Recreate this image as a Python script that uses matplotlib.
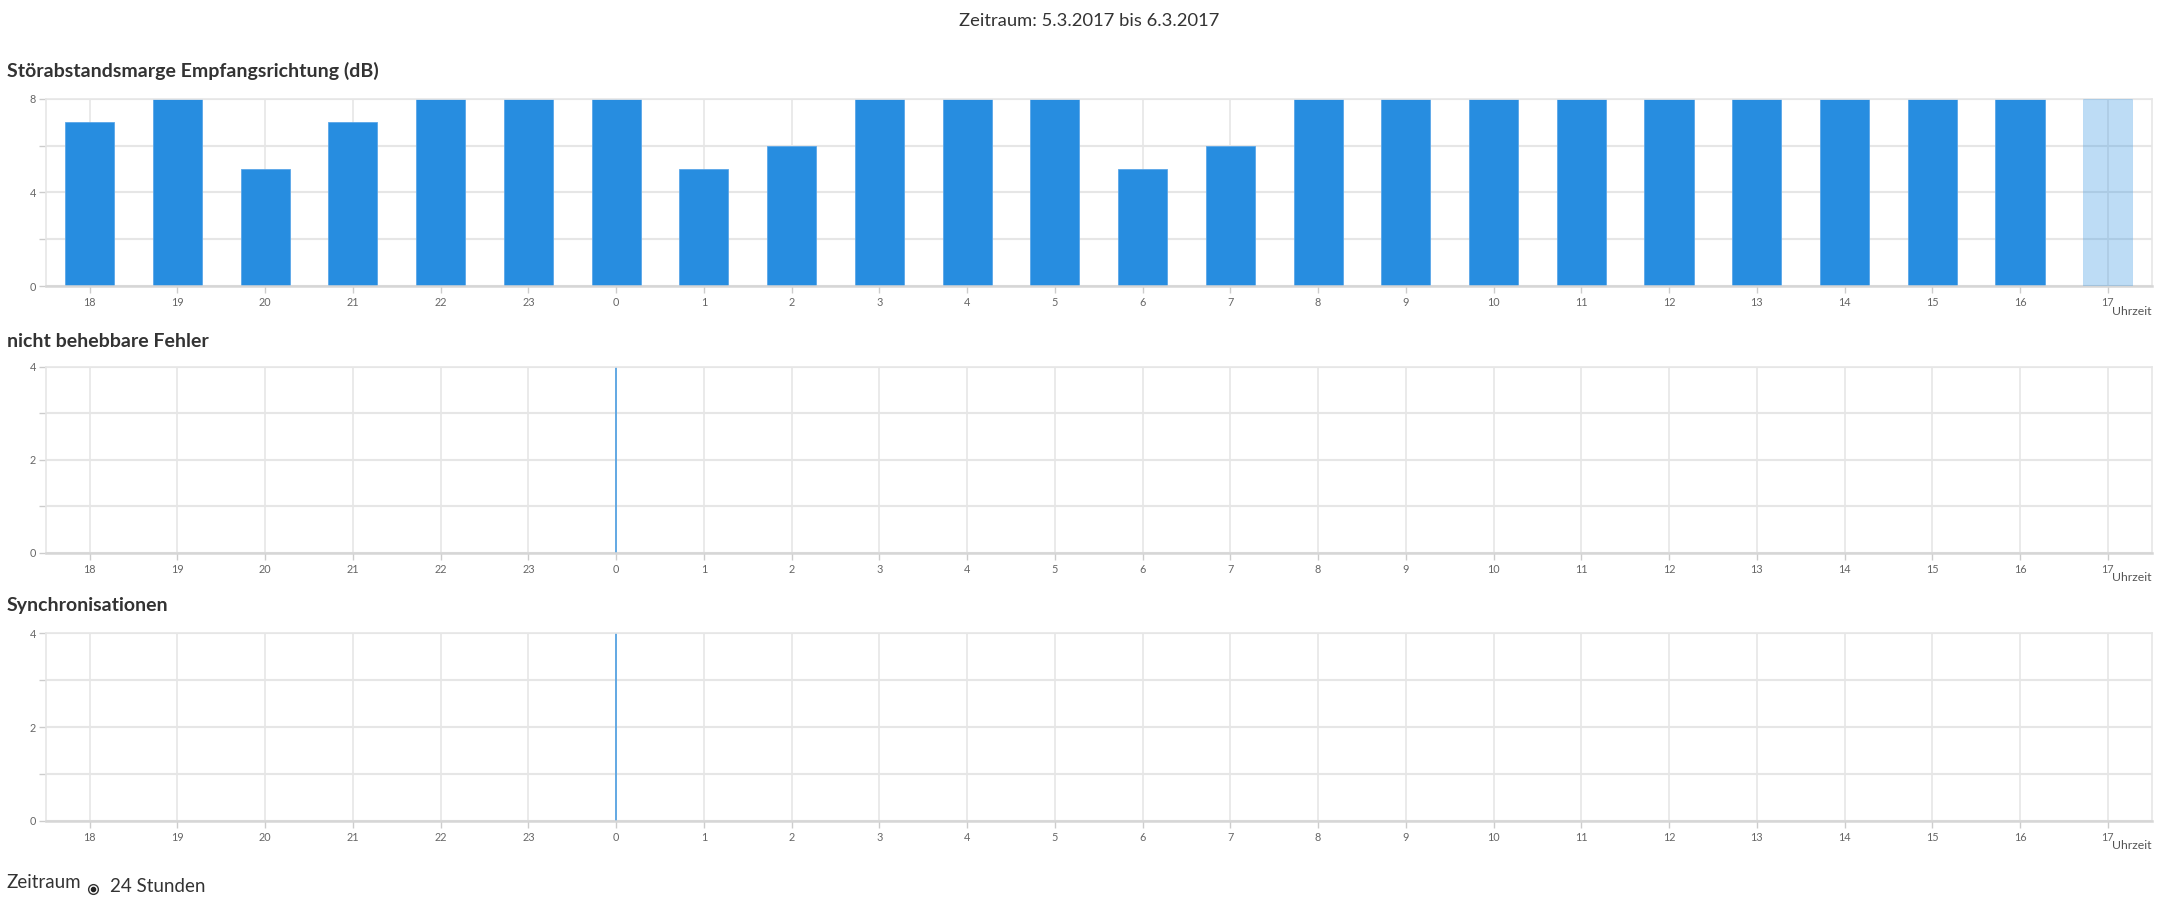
import matplotlib
matplotlib.use("Agg")
import matplotlib.pyplot as plt
from matplotlib.lines import Line2D
import numpy as np

plt.rcParams['font.family'] = ['Lato', 'DejaVu Sans']

hours = ["18", "19", "20", "21", "22", "23", "0", "1", "2", "3", "4", "5",
         "6", "7", "8", "9", "10", "11", "12", "13", "14", "15", "16", "17"]
snr_margin = [7, 8, 5, 7, 8, 8, 8, 5, 6, 8, 8, 8, 5, 6, 8, 8, 8, 8, 8, 8, 8, 8, 8, 8]
uncorrectable_errors = [0] * 24
resyncs = [0] * 24
highlight_hour = "17"
midnight_hour = "0"

period_title = "Zeitraum: 5.3.2017 bis 6.3.2017"
titles = ["Störabstandsmarge Empfangsrichtung (dB)", "nicht behebbare Fehler", "Synchronisationen"]
ymax = [8, 4, 4]

BLUE = "#278de0"
GRID = "#e6e6e6"
TXT = "#333333"
TICK = "#666666"

W, H = 2178, 910
fig = plt.figure(figsize=(W / 100, H / 100), dpi=100)

DW = 1568.0
DH = DW * H / W

def fx(px):
    return px / DW

def fy(py):
    return 1 - py / DH

left, right = fx(33), fx(1549)
panels = [(71, 206, 51), (264, 398, 246), (456, 591, 436)]
series = [snr_margin, uncorrectable_errors, resyncs]

x = np.arange(len(hours))
for i, ((top, bot, ty), vals, ym, title) in enumerate(zip(panels, series, ymax, titles)):
    ax = fig.add_axes([left, fy(bot), right - left, fy(top) - fy(bot)])
    mid_idx = hours.index(midnight_hour)
    ax.axvline(mid_idx, color="#3d97e2", lw=1.1, zorder=1.5)
    bars = ax.bar(x, vals, width=0.56, color=BLUE, edgecolor="#5aa7e8", linewidth=0.6, zorder=2)
    for b, h in zip(bars, hours):
        if h == highlight_hour and i == 0:
            b.set_alpha(0.3)
            b.set_zorder(3)
    ax.set_xlim(-0.5, len(hours) - 0.5)
    ax.set_ylim(0, ym)
    ax.set_xticks(x)
    ax.set_xticklabels(hours)
    ax.set_yticks([0, ym / 2, ym])
    ax.set_yticklabels([str(int(v)) for v in [0, ym / 2, ym]])
    ax.set_yticks([ym / 4, 3 * ym / 4], minor=True)
    ax.grid(True, which="both", axis="y", color=GRID, lw=1.5, zorder=0)
    ax.grid(True, which="major", axis="x", color=GRID, lw=1.2, zorder=0)
    ax.set_axisbelow(True)
    ax.tick_params(axis="both", which="both", colors="#cccccc", labelcolor=TICK,
                   labelsize=7.8, length=5, width=1)
    ax.tick_params(axis="y", pad=2)
    ax.tick_params(axis="x", pad=3)
    for s in ["top", "right", "left"]:
        ax.spines[s].set_color(GRID)
        ax.spines[s].set_linewidth(1.2)
    ax.spines["bottom"].set_color("#d6d6d6")
    ax.spines["bottom"].set_linewidth(1.8)
    fig.text(fx(5), fy(ty), title, fontsize=14, fontweight="bold", color=TXT,
             ha="left", va="center")
    fig.text(right, fy(bot + 18), "Uhrzeit", fontsize=8.8, color="#555555",
             ha="right", va="center")

fig.text(0.5, fy(15), period_title, fontsize=13.2, color=TXT, ha="center", va="center")

fig.text(fx(5), fy(635), "Zeitraum", fontsize=13.5, color=TXT, ha="left", va="center")
fig.add_artist(Line2D([fx(67)], [fy(640)], transform=fig.transFigure, marker="o",
                      markersize=7, markerfacecolor="white", markeredgecolor="#333333",
                      markeredgewidth=1.0, linestyle="none"))
fig.add_artist(Line2D([fx(67)], [fy(640)], transform=fig.transFigure, marker="o",
                      markersize=3, markerfacecolor="#222222", markeredgecolor="#222222",
                      linestyle="none"))
fig.text(fx(79), fy(638), "24 Stunden", fontsize=13.5, color=TXT, ha="left", va="center")

fig.savefig("out.png", dpi=100)
